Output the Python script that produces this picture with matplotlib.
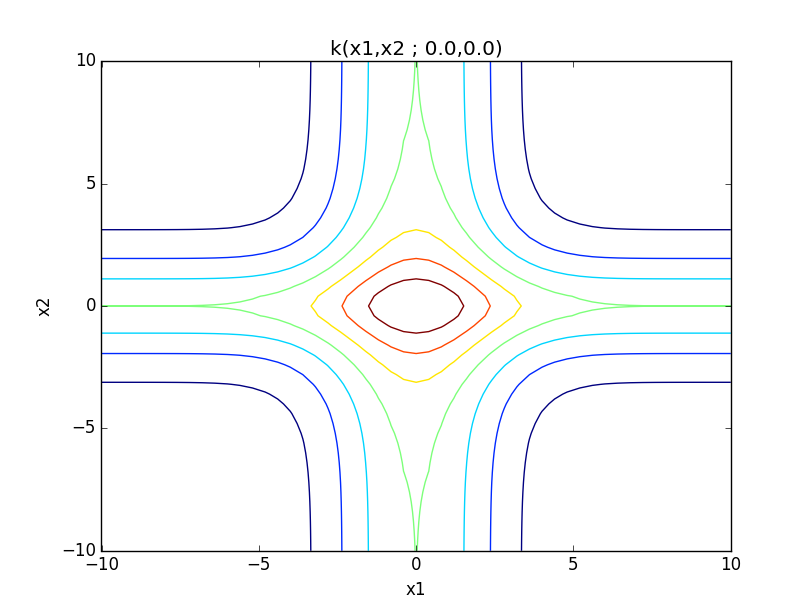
import numpy as np
import matplotlib
matplotlib.use('Agg')
import matplotlib.pyplot as plt

plt.style.use('classic')

# kernel centred at (0.0, 0.0): rbf in x1 plus matern-3/2 in x2
center = (0.0, 0.0)
amp_x1, len_x1 = 4.0, 2.0
amp_x2, len_x2 = 4.0, 2.0
grid = np.linspace(-10, 10, 51)
levels = [1, 2, 3, 4, 5, 6, 7]

X1, X2 = np.meshgrid(grid, grid)
r1 = np.abs(X1 - center[0])
r2 = np.abs(X2 - center[1])
u = np.sqrt(3) * r2 / len_x2
K = amp_x1 * np.exp(-r1**2 / (2 * len_x1**2)) + amp_x2 * (1 + u) * np.exp(-u)

fig = plt.figure(figsize=(8.12, 6.12), dpi=100, facecolor='white')
ax = fig.add_subplot(111)
ax.contour(X1, X2, K, levels=levels, cmap='jet')
ax.set_xlim(-10, 10); ax.set_ylim(-10, 10)
ax.set_xticks([-10, -5, 0, 5, 10]); ax.set_yticks([-10, -5, 0, 5, 10])
ax.set_xlabel('x1'); ax.set_ylabel('x2')
ax.set_title('k(x1,x2 ; %.1f,%.1f)' % center)
fig.savefig('out.png', dpi=100, facecolor='white')
